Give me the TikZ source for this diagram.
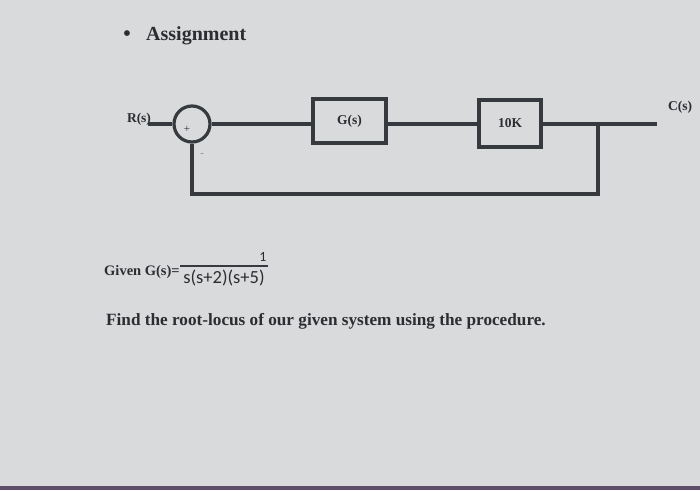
\documentclass[tikz,border=0pt]{standalone}
\usepackage{fontspec}
\setmainfont{Liberation Serif}
\newfontfamily\calfont{Carlito}
\usetikzlibrary{positioning,calc}
\definecolor{screengrey}{HTML}{D8DADC}
\definecolor{inkline}{HTML}{36393E}
\definecolor{inktext}{HTML}{2B2D31}
\definecolor{faintmark}{HTML}{7A7D82}
\definecolor{bezelpurple}{HTML}{5E4E6A}

\begin{document}
\begin{tikzpicture}[x=1pt, y=-1pt,
    block/.style={draw=inkline, line width=3.2pt, minimum width=73pt, minimum height=44pt, inner sep=0pt, text=inktext, font=\bfseries\fontsize{13.5}{15}\selectfont},
    sumjn/.style={circle, draw=inkline, line width=3.2pt, minimum size=36pt, inner sep=0pt},
    signal/.style={draw=inkline, line width=3.2pt},
    lbl/.style={inner sep=0pt, text=inktext, font=\bfseries\fontsize{13.5}{15}\selectfont},
    txt/.style={inner sep=0pt, text=inktext, font=\bfseries\fontsize{14.5}{16}\selectfont}
]
\fill[screengrey] (0,0) rectangle (700,490);
\fill[bezelpurple] (0,486) rectangle (700,490);
\useasboundingbox (0,0) rectangle (700,490);

% heading
\node[inner sep=0pt, text=inktext, font=\fontsize{24}{26}\selectfont] (bul) at (127,36) {\textbullet};
\node[txt, anchor=base west, font=\bfseries\fontsize{20}{22}\selectfont] (title) at (146,40) {Assignment};

% loop
\node[sumjn] (sum) at (192,124) {};
\node[inner sep=0pt, text=inktext, font=\fontsize{11}{12}\selectfont] (plus) at (187,129) {+};
\node[inner sep=0pt, text=faintmark, font=\fontsize{10}{11}\selectfont] (minus) at (202,155) {-};
\node[block] (gblk) at (349.5,121) {G(s)};
\node[block, minimum width=62pt, minimum height=47pt] (kblk) at (510,123.5) {10K};
\node[lbl] (rlab) at (139,119) {R(s)};
\node[lbl] (clab) at (680,107) {C(s)};
\coordinate (rin) at (148,124);
\coordinate (tap) at (598,124);
\coordinate (cout) at (657,124);
\coordinate (fbk) at (598,194);

\draw[signal] (rin) -- (sum.west);
\draw[signal] (sum.east) -- (sum.east -| gblk.west);
\draw[signal] (gblk.east |- tap) -- (kblk.west |- tap);
\draw[signal] (kblk.east |- tap) -- (cout);
\draw[signal] (tap) -- (fbk) -- (fbk -| sum.south) -- (sum.south);

% transfer function
\node[txt, anchor=base west] (given) at (104,275) {Given G(s)=};
\coordinate (barl) at (180,266);
\coordinate (barr) at (268,266);
\draw[inkline, line width=1.2pt] (barl) -- (barr);
\node[inner sep=0pt, text=inktext, font=\calfont\fontsize{14}{16}\selectfont] (num) at (263,257) {1};
\node[inner sep=0pt, text=inktext, font=\calfont\fontsize{18.5}{20}\selectfont] (den) at (224,278) {s(s+2)(s+5)};

% task
\node[txt, anchor=base west, font=\bfseries\fontsize{17.2}{19}\selectfont] (task) at (106,325) {Find the root-locus of our given system using the procedure.};
\end{tikzpicture}
\end{document}
